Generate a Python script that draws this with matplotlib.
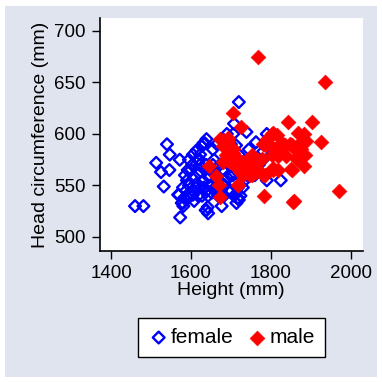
import matplotlib
matplotlib.use("Agg")
import matplotlib.pyplot as plt
from matplotlib.patches import Rectangle

plt.rcParams['font.family'] = ['Liberation Sans', 'DejaVu Sans']

# Female (height mm, head circumference mm)
female_height = [1460, 1481, 1573, 1513, 1525, 1540, 1547, 1546, 1532, 1572, 1570, 1577, 1581,
                 1639, 1631, 1614, 1623, 1637, 1642, 1677, 1720, 1708, 1739, 1706, 1713, 1763,
                 1790, 1781, 1825, 1724, 1720, 1627, 1635, 1617, 1622, 1568, 1580, 1593, 1605,
                 1639, 1718, 1714, 1643,
                 1585, 1590, 1595, 1600, 1605, 1610, 1615, 1620, 1625, 1630, 1635, 1640, 1645,
                 1650, 1655, 1660, 1665, 1670, 1675, 1680, 1685, 1690, 1695, 1700, 1705, 1710,
                 1715, 1720, 1725, 1730, 1588, 1592, 1598, 1603, 1608, 1612, 1618, 1622, 1628,
                 1633, 1638, 1643, 1648, 1652, 1658, 1662, 1668, 1672, 1678, 1683, 1688, 1693,
                 1698, 1703, 1708, 1712, 1718, 1735, 1745, 1750, 1760, 1770, 1780, 1790, 1655,
                 1665, 1680, 1690, 1700, 1720, 1740, 1595, 1605, 1580, 1583]
female_head = [530, 530, 519, 572, 563, 590, 580, 565, 549, 575, 541, 533, 530,
               595, 591, 584, 580, 526, 529, 530, 631, 610, 602, 600, 589, 592,
               600, 583, 555, 540, 536, 588, 591, 575, 570, 541, 533, 538, 541,
               526, 538, 533, 523,
               560, 555, 550, 565, 545, 558, 552, 562, 548, 555, 565, 545, 558,
               550, 570, 548, 560, 555, 545, 565, 550, 558, 570, 545, 560, 552,
               575, 565, 558, 548, 545, 565, 540, 570, 535, 548, 540, 575, 540,
               548, 570, 540, 565, 543, 575, 555, 540, 570, 552, 540, 575, 545,
               560, 580, 540, 565, 548, 555, 585, 575, 560, 570, 575, 555, 585,
               590, 595, 600, 590, 580, 560, 575, 580, 548, 538]

# Male
male_height = [1767, 1937, 1972, 1858, 1782, 1706, 1725, 1842, 1903, 1927, 1883, 1888, 1802,
               1815, 1781, 1794, 1829, 1847, 1856, 1804, 1819, 1839, 1885, 1865, 1884, 1850,
               1819, 1806, 1781, 1673, 1694, 1681, 1706, 1689, 1681, 1698, 1646, 1664, 1670,
               1672, 1719, 1727, 1740, 1748, 1752, 1769, 1777, 1756, 1760, 1731, 1714, 1702,
               1714, 1764, 1680, 1693, 1705, 1702, 1714, 1722, 1735, 1717, 1805, 1785, 1867,
               1835, 1852, 1864, 1818, 1760, 1752, 1785, 1805, 1852, 1855, 1740, 1745, 1730,
               1825, 1810, 1870, 1875, 1790]
male_head = [675, 650, 545, 535, 540, 620, 607, 612, 612, 592, 600, 593, 600,
             599, 590, 591, 591, 590, 587, 580, 580, 579, 580, 576, 569, 566,
             565, 567, 560, 595, 593, 588, 585, 580, 573, 573, 569, 559, 550,
             539, 550, 565, 564, 560, 580, 575, 576, 571, 567, 573, 578, 573,
             568, 563, 594, 596, 582, 586, 575, 563, 565, 550, 601, 589, 601,
             589, 589, 577, 579, 568, 560, 560, 565, 565, 534, 575, 570, 560,
             585, 585, 590, 585, 595]

x_ticks = [1400, 1600, 1800, 2000]
y_ticks = [500, 550, 600, 650, 700]

W = 382
fig = plt.figure(figsize=(3.82, 3.82), dpi=100)
fig.patch.set_facecolor('white')
fig.patches.append(Rectangle((5 / W, 5 / W), 372 / W, 371 / W, transform=fig.transFigure,
                             facecolor='#e0e4ef', edgecolor='none', zorder=-10))

ax = fig.add_axes([99.5 / W, 1 - 251 / W, (363 - 99.5) / W, (251 - 18) / W])
ax.set_zorder(5)
ax.set_facecolor('white')
ax.scatter(female_height, female_head, marker='D', s=36, facecolors='none',
           edgecolors='#0000ff', linewidths=1.7, label='female', zorder=2)
ax.scatter(male_height, male_head, marker='D', s=56, facecolors='#ff0000',
           edgecolors='#ff0000', linewidths=0.5, label='male', zorder=3)

ax.set_xlim(1371, 2031)
ax.set_ylim(486.4, 712.6)
ax.set_xticks(x_ticks)
ax.set_yticks(y_ticks)
ax.spines['top'].set_visible(False)
ax.spines['right'].set_visible(False)
for s in ['left', 'bottom']:
    ax.spines[s].set_linewidth(1.2)
ax.tick_params(direction='out', length=6, width=1.0, labelsize=13.5, pad=4)
ax.set_xlabel('Height (mm)', fontsize=14, labelpad=0)
ax.set_ylabel('Head circumference (mm)', fontsize=14, labelpad=4)

leg = fig.legend(loc='center', bbox_to_anchor=(231.5 / W, 1 - 337.5 / W),
                 ncol=2, fontsize=15, frameon=True, fancybox=False,
                 edgecolor='black', framealpha=1, handletextpad=0.1,
                 columnspacing=0.6, borderpad=0.5, handlelength=1.0)
leg.get_frame().set_linewidth(1.0)
leg.set_zorder(10)

fig.savefig('out.png', dpi=100)
